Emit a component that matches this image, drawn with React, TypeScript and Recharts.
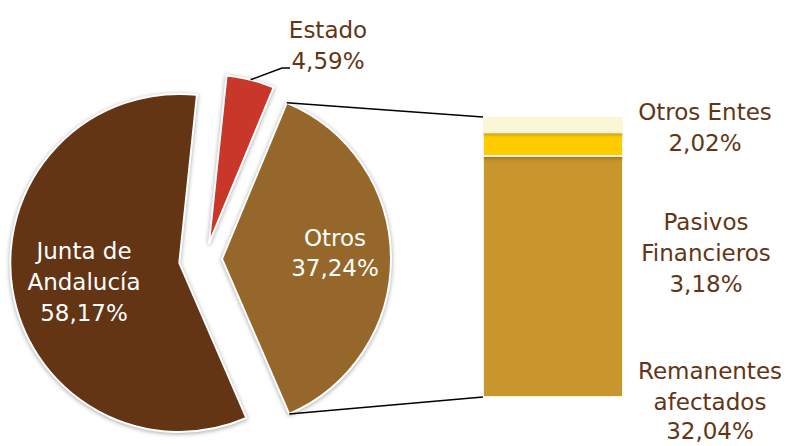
import { PieChart, Pie, Cell, BarChart, Bar, XAxis, YAxis } from "recharts";

// pie slices, clockwise from the top
const pieNames = ["Estado", "Otros", "Junta de Andalucía"];
const pieValues = [4.59, 37.24, 58.17];
const pieColors = ["#C8372A", "#96672A", "#633515"];

// breakdown of "Otros" shown as the stacked bar (bottom to top)
const barNames = ["Remanentes afectados", "Pasivos Financieros", "Otros Entes"];
const barValues = [32.04, 3.18, 2.02];
const barColors = ["#C9962E", "#FFCC00", "#FBF6D5"];

const fmt = (v: number) => v.toFixed(2).replace(".", ",") + "%";

const W = 789;
const H = 446;
const CX = 205;
const CY = 259;
const R = 169;
const START = 6; // compass degrees
const explode = [16, 17, 26];

const BAR_X = 483;
const BAR_Y = 117;
const BAR_W = 140;
const BAR_H = 280;

const TEXT = "#633515";
const FONT = "'DejaVu Sans', sans-serif";

const total = pieValues.reduce((a, b) => a + b, 0);
const slices = pieValues.map((v, i) => {
  const before = pieValues.slice(0, i).reduce((a, b) => a + b, 0);
  const a0 = START + (before / total) * 360;
  const a1 = a0 + (v / total) * 360;
  const mid = ((a0 + a1) / 2) * Math.PI / 180;
  return {
    a0,
    a1,
    cx: CX + explode[i] * Math.sin(mid),
    cy: CY - explode[i] * Math.cos(mid),
  };
});

const pt = (cx: number, cy: number, compass: number, r: number) => {
  const t = (compass * Math.PI) / 180;
  return { x: cx + r * Math.sin(t), y: cy - r * Math.cos(t) };
};

const barData = [
  { name: "Otros", rem: barValues[0], pas: barValues[1], ent: barValues[2] },
];
const barKeys = ["rem", "pas", "ent"];

const App = () => {
  const o = slices[1];
  const oTop = pt(o.cx, o.cy, o.a0, R);
  const oBot = pt(o.cx, o.cy, o.a1, R);
  const e = slices[0];
  const eMid = pt(e.cx, e.cy, (e.a0 + e.a1) / 2, R);

  const lines = (
    x: number,
    ys: number[],
    texts: string[],
    color: string
  ) =>
    texts.map((t, i) => (
      <text
        key={t + i}
        x={x}
        y={ys[i]}
        textAnchor="middle"
        dominantBaseline="central"
        fill={color}
        fontSize={23}
        fontFamily={FONT}
      >
        {t}
      </text>
    ));

  return (
    <div style={{ position: "absolute", left: 0, top: 0, width: W, height: H, background: "#fff" }}>
      <style>{`.recharts-pie-sector path { filter: drop-shadow(0px 1px 2px rgba(0,0,0,0.35)); }
.recharts-bar-rectangles { filter: drop-shadow(0px 1px 2px rgba(0,0,0,0.3)); }`}</style>
      <div style={{ position: "absolute", left: 0, top: 0 }}>
        <PieChart width={W} height={H} margin={{ top: 0, right: 0, bottom: 0, left: 0 }}>
          {slices.map((s, i) => (
            <Pie
              key={pieNames[i]}
              data={[{ name: pieNames[i], value: pieValues[i] }]}
              dataKey="value"
              cx={s.cx}
              cy={s.cy}
              outerRadius={R}
              startAngle={90 - s.a0}
              endAngle={90 - s.a1}
              stroke="#fff"
              strokeWidth={2}
              isAnimationActive={false}
            >
              <Cell fill={pieColors[i]} />
            </Pie>
          ))}
        </PieChart>
      </div>
      <svg width={W} height={H} style={{ position: "absolute", left: 0, top: 0 }}>
        <line x1={oTop.x} y1={oTop.y} x2={BAR_X} y2={BAR_Y} stroke="#000" strokeWidth={1.5} />
        <line x1={oBot.x} y1={oBot.y} x2={BAR_X} y2={BAR_Y + BAR_H} stroke="#000" strokeWidth={1.5} />
        <polyline
          points={`${eMid.x},${eMid.y} 282,68 290,68`}
          fill="none"
          stroke="#000"
          strokeWidth={1.5}
        />
      </svg>
      <div style={{ position: "absolute", left: BAR_X, top: BAR_Y }}>
        <BarChart
          width={BAR_W}
          height={BAR_H}
          data={barData}
          margin={{ top: 0, right: 0, bottom: 0, left: 0 }}
          barCategoryGap={0}
        >
          <XAxis dataKey="name" hide />
          <YAxis hide domain={[0, barValues.reduce((a, b) => a + b, 0)]} />
          {barKeys.map((k, i) => (
            <Bar
              key={k}
              dataKey={k}
              name={barNames[i]}
              stackId="a"
              fill={barColors[i]}
              stroke="#FBF3E0"
              strokeWidth={2}
              isAnimationActive={false}
            />
          ))}
        </BarChart>
      </div>
      <svg width={W} height={H} style={{ position: "absolute", left: 0, top: 0, pointerEvents: "none" }}>
        {lines(328, [30, 61], [pieNames[0], fmt(pieValues[0])], TEXT)}
        {lines(335, [238, 268], [pieNames[1], fmt(pieValues[1])], "#fff")}
        {lines(84, [251, 282, 313], ["Junta de", "Andalucía", fmt(pieValues[2])], "#fff")}
        {lines(705, [112, 143], [barNames[2], fmt(barValues[2])], TEXT)}
        {lines(706, [222, 253, 284], ["Pasivos", "Financieros", fmt(barValues[1])], TEXT)}
        {lines(710, [371, 402, 431], ["Remanentes", "afectados", fmt(barValues[0])], TEXT)}
      </svg>
    </div>
  );
};

export default App;
